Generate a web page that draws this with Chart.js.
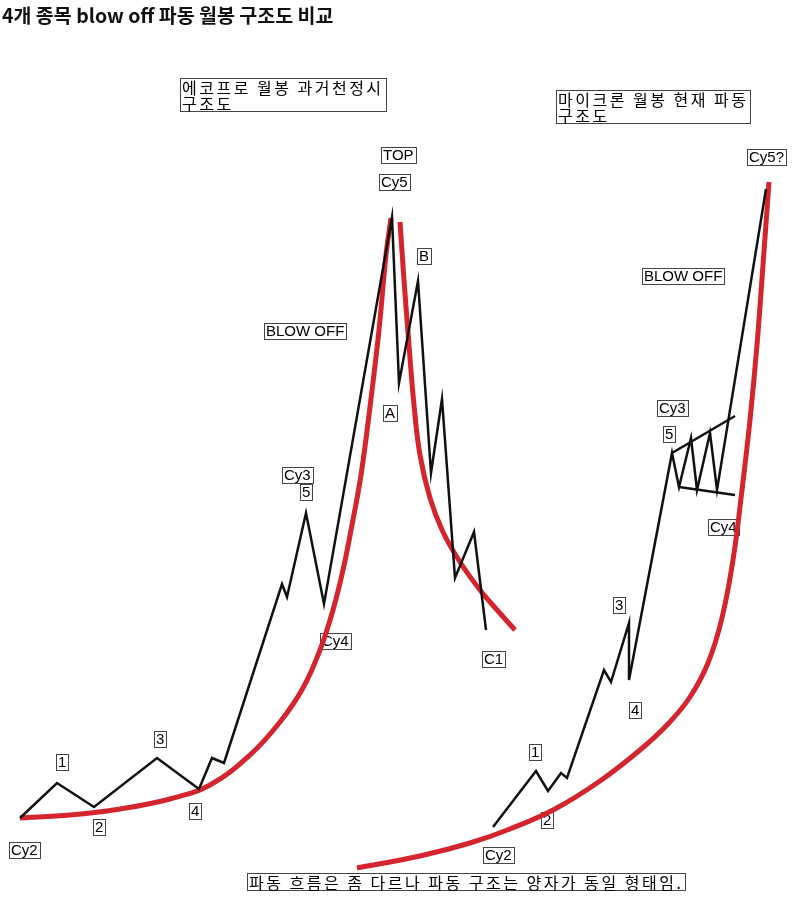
<!DOCTYPE html>
<html>
<head>
<meta charset="utf-8">
<script src="https://cdn.jsdelivr.net/npm/chart.js@4"></script>
<style>
    body { margin: 0; background: #fff; }
    #wrap { position: relative; width: 798px; height: 908px; }
    #title {
        position: absolute; left: 2px; top: 0px;
        font: bold 19.5px 'Noto Sans CJK KR', sans-serif; color: #111;
    }
</style>
</head>
<body>
<div id="wrap">
    <canvas id="chart1" width="798" height="908"></canvas>
    <div id="title">4개 종목 blow off 파동 월봉 구조도 비교</div>
</div>
<script>
// drawing units: x = horizontal position, y = level (top of sheet is 0)
const ecoWave = [[20,818],[57,783],[94,807],[157,758],[199,789],[212,758],[224,763],[282,584],[287,597],[306,513],[324,604],[392,217],[399,383],[418,281],[431,473],[442,399],[455,578],[474,532],[486,630]];
const ecoRedUp = [[20,818],[70,815],[120,809],[170,799],[210,785],[250,755],[280,722],[303,688],[320,650],[333,610],[343,570],[352,525],[361,475],[370,407],[379,330],[386,255],[391,218]];
const ecoRedDown = [[400,222],[404,280],[409,345],[414,405],[420,455],[430,498],[443,532],[460,562],[480,590],[498,611],[515,630]];

const micWave = [[493,827],[536,771],[548,791],[561,773],[567,778],[604,670],[611,682],[629,623],[629,680],[672,453],[679,487],[691,438],[697,490],[710,433],[717,490],[766,189]];
const micUpperEdge = [[672,453],[735,416]];
const micLowerEdge = [[679,487],[735,495]];
const micRed = [[357,868],[420,856],[470,843],[510,829],[555,809],[600,781],[640,750],[668,724],[690,697],[708,663],[722,618],[733,560],[742,490],[750,420],[757,345],[763,265],[769,182]];

const boxLabels = [
    {text: ['에코프로 월봉 과거천정시', '구조도'], x: 180, y: 78, ko: true},
    {text: ['마이크론 월봉 현재 파동', '구조도'], x: 556, y: 90, ko: true},
    {text: ['TOP'], x: 381, y: 147},
    {text: ['Cy5'], x: 379, y: 174},
    {text: ['B'], x: 417, y: 248},
    {text: ['BLOW OFF'], x: 264, y: 323},
    {text: ['A'], x: 383, y: 405},
    {text: ['Cy3'], x: 282, y: 467},
    {text: ['5'], x: 300, y: 484},
    {text: ['Cy4'], x: 320, y: 633},
    {text: ['C1'], x: 482, y: 651},
    {text: ['1'], x: 56, y: 754},
    {text: ['3'], x: 154, y: 731},
    {text: ['2'], x: 93, y: 819},
    {text: ['4'], x: 189, y: 803},
    {text: ['Cy2'], x: 9, y: 842},
    {text: ['Cy5?'], x: 747, y: 149},
    {text: ['BLOW OFF'], x: 642, y: 268},
    {text: ['Cy3'], x: 657, y: 400},
    {text: ['5'], x: 663, y: 426},
    {text: ['Cy4'], x: 708, y: 519},
    {text: ['3'], x: 613, y: 597},
    {text: ['4'], x: 629, y: 702},
    {text: ['1'], x: 529, y: 744},
    {text: ['2'], x: 541, y: 812},
    {text: ['Cy2'], x: 483, y: 847},
    {text: ['파동 흐름은 좀 다르나 파동 구조는 양자가 동일 형태임.'], x: 247, y: 873, ko: true}
];

const RED = 'rgb(212, 36, 46)';
const BLACK = '#111';

function toPoints(arr) {
    return arr.map(p => ({x: p[0], y: p[1]}));
}

const labelBoxes = {
    id: 'labelBoxes',
    beforeDatasetsDraw(chart) {
        const ctx = chart.ctx;
        const xs = chart.scales.x;
        const ys = chart.scales.y;
        ctx.save();
        boxLabels.forEach(lab => {
            const left = xs.getPixelForValue(lab.x);
            const top = ys.getPixelForValue(lab.y);
            let lineH, w = 0;
            if (lab.ko) {
                ctx.font = '16px "Noto Sans CJK KR", sans-serif';
                ctx.letterSpacing = '2.5px';
                lineH = 16;
            } else {
                ctx.font = '15px "Liberation Sans", Arial, sans-serif';
                ctx.letterSpacing = '0px';
                lineH = 15;
            }
            lab.text.forEach(t => { w = Math.max(w, ctx.measureText(t).width); });
            const bw = Math.round(w + 4);
            const bh = lineH * lab.text.length + 1;
            ctx.fillStyle = '#fff';
            ctx.fillRect(left, top, bw, bh);
            ctx.strokeStyle = '#444';
            ctx.lineWidth = 1;
            ctx.strokeRect(left + 0.5, top + 0.5, bw, bh);
            ctx.fillStyle = '#000';
            ctx.textBaseline = 'middle';
            lab.text.forEach((t, i) => {
                ctx.fillText(t, left + 2, top + 1 + lineH * i + lineH / 2 + 0.5);
            });
        });
        ctx.restore();
    }
};

function lineSet(arr, color, width, smooth) {
    return {
        data: toPoints(arr),
        showLine: true,
        borderColor: color,
        borderWidth: width,
        pointRadius: 0,
        fill: false,
        tension: smooth ? 0.4 : 0,
        borderCapStyle: 'butt',
        borderJoinStyle: 'miter'
    };
}

const ctx = document.getElementById('chart1');
const chart = new Chart(ctx, {
    type: 'scatter',
    data: {
        datasets: [
            lineSet(ecoWave, BLACK, 2.5, false),
            lineSet(micWave, BLACK, 2.5, false),
            lineSet(micUpperEdge, BLACK, 2.5, false),
            lineSet(micLowerEdge, BLACK, 2.5, false),
            lineSet(ecoRedUp, RED, 5, true),
            lineSet(ecoRedDown, RED, 5, true),
            lineSet(micRed, RED, 5, true)
        ]
    },
    options: {
        responsive: false,
        animation: false,
        layout: { padding: 0 },
        scales: {
            x: { type: 'linear', min: 0, max: 798, display: false },
            y: { type: 'linear', min: 0, max: 908, reverse: true, display: false }
        },
        plugins: {
            legend: { display: false },
            tooltip: { enabled: false },
            title: { display: false }
        }
    },
    plugins: [labelBoxes]
});
</script>
</body>
</html>
